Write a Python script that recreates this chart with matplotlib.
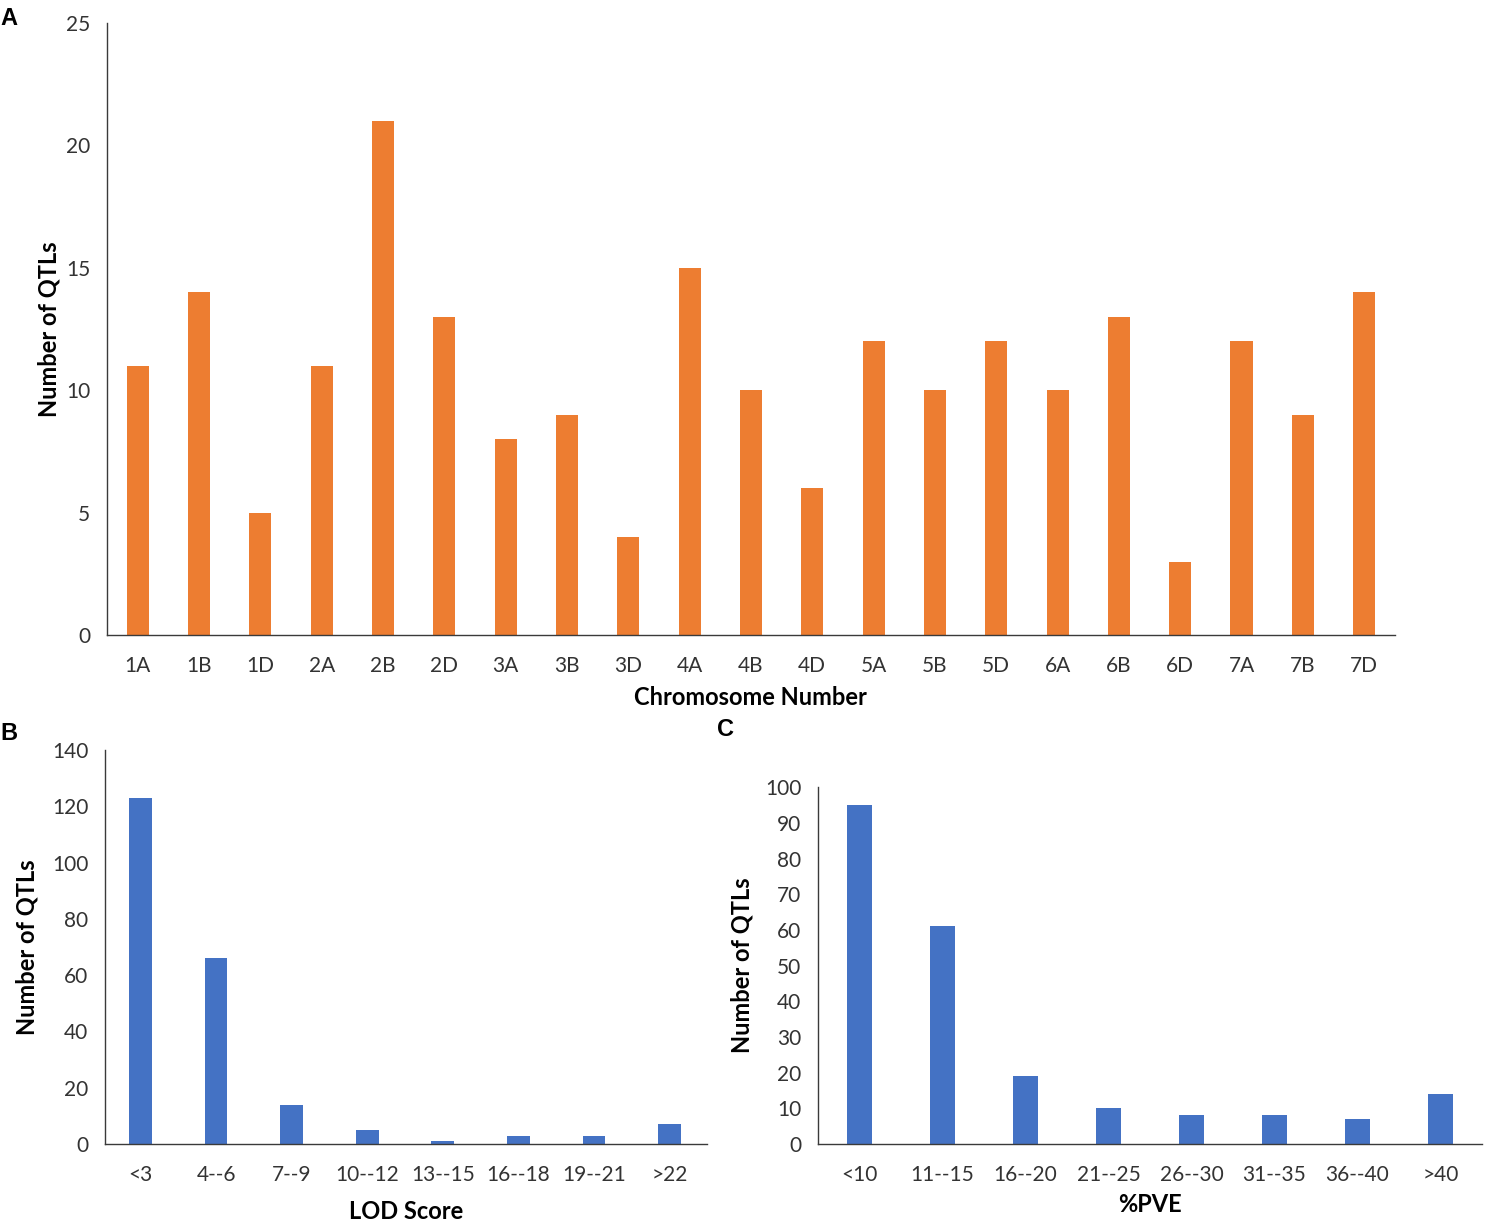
import matplotlib
matplotlib.use("Agg")
import matplotlib.pyplot as plt
import numpy as np

chromosomes = ["1A","1B","1D","2A","2B","2D","3A","3B","3D","4A","4B","4D",
               "5A","5B","5D","6A","6B","6D","7A","7B","7D"]
qtl_per_chrom = [11,14,5,11,21,13,8,9,4,15,10,6,12,10,12,10,13,3,12,9,14]

lod_bins = ["<3","4--6","7--9","10--12","13--15","16--18","19--21",">22"]
lod_counts = [123,66,14,5,1,3,3,7]

pve_bins = ["<10","11--15","16--20","21--25","26--30","31--35","36--40",">40"]
pve_counts = [95,61,19,10,8,8,7,14]

plt.rcParams['font.family'] = ['Lato', 'DejaVu Sans']
ORANGE = "#ED7D31"
BLUE = "#4472C4"
TICKC = "#333333"

fig = plt.figure(figsize=(14.87, 12.22), dpi=100)

def style(ax, ymax, step):
    ax.set_ylim(0, ymax)
    ax.set_yticks(np.arange(0, ymax + 0.1, step))
    for s in ["top", "right"]:
        ax.spines[s].set_visible(False)
    for s in ["left", "bottom"]:
        ax.spines[s].set_color("#3a3a3a")
        ax.spines[s].set_linewidth(1.0)
    ax.tick_params(axis="y", length=0, labelsize=15, colors=TICKC, pad=12)
    ax.tick_params(axis="x", length=0, labelsize=15, colors=TICKC, pad=15)

# Panel A
axA = fig.add_axes([0.072, 0.4804, 0.866, 0.5008])
xA = np.arange(len(chromosomes))
axA.bar(xA, qtl_per_chrom, width=0.36, color=ORANGE)
axA.set_xticks(xA)
axA.set_xticklabels(chromosomes)
axA.set_xlim(-0.5, len(chromosomes) - 0.5)
style(axA, 25, 5)
axA.set_xlabel("Chromosome Number", fontsize=17, fontweight="bold", labelpad=7)
axA.set_ylabel("Number of QTLs", fontsize=17, fontweight="bold", labelpad=4)

# Panel B
axB = fig.add_axes([0.0706, 0.0638, 0.405, 0.3225])
xB = np.arange(len(lod_bins))
axB.bar(xB, lod_counts, width=0.3, color=BLUE)
axB.set_xticks(xB)
axB.set_xticklabels(lod_bins)
axB.set_xlim(-0.47, len(lod_bins) - 0.5)
style(axB, 140, 20)
axB.set_xlabel("LOD Score", fontsize=17, fontweight="bold", labelpad=11)
axB.set_ylabel("Number of QTLs", fontsize=17, fontweight="bold", labelpad=10)

# Panel C
axC = fig.add_axes([0.550, 0.0638, 0.4466, 0.292])
xC = np.arange(len(pve_bins))
axC.bar(xC, pve_counts, width=0.3, color=BLUE)
axC.set_xticks(xC)
axC.set_xticklabels(pve_bins)
axC.set_xlim(-0.5, len(pve_bins) - 0.5)
style(axC, 100, 10)
axC.set_xlabel("%PVE", fontsize=17, fontweight="bold", labelpad=6)
axC.set_ylabel("Number of QTLs", fontsize=17, fontweight="bold", labelpad=8)

fig.text(0.0, 0.985, "A", fontsize=17, fontweight="bold", ha="left", va="center",
         family=["Liberation Sans", "DejaVu Sans"])
fig.text(0.0, 0.400, "B", fontsize=17, fontweight="bold", ha="left", va="center",
         family=["Liberation Sans", "DejaVu Sans"])
fig.text(0.482, 0.403, "C", fontsize=17, fontweight="bold", ha="left", va="center",
         family=["Liberation Sans", "DejaVu Sans"])

fig.savefig("out.png", dpi=100, facecolor="white")
